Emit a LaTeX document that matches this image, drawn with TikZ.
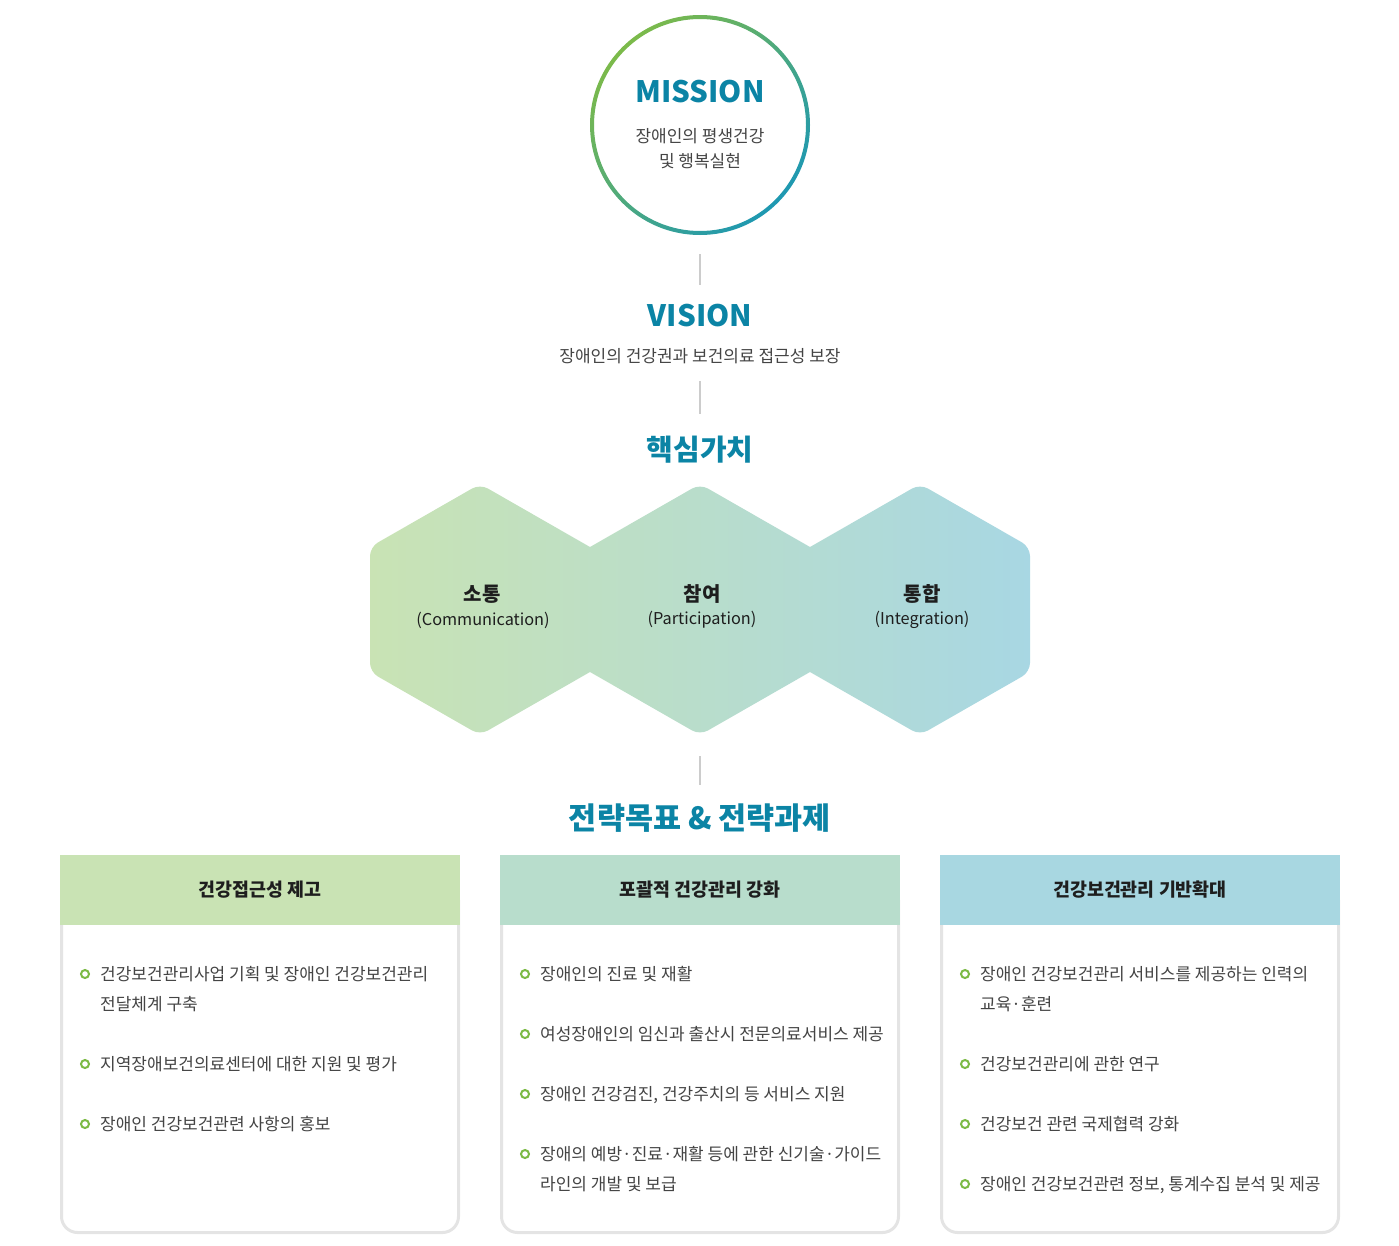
\documentclass[tikz,border=0pt]{standalone}
\usepackage{fontspec}
\setmainfont{Noto Sans CJK KR}
\definecolor{ttl}{HTML}{0B84A5}
\definecolor{txtgray}{HTML}{444444}
\definecolor{txtdark}{HTML}{1E1E1E}
\definecolor{linegray}{HTML}{CCCCCC}
\definecolor{boxgray}{HTML}{E4E4E4}
\definecolor{bulgreen}{HTML}{7CBA45}
\definecolor{ringA}{HTML}{7CBA4A}
\definecolor{ringB}{HTML}{1E98B2}
\definecolor{hexA}{HTML}{C9E3B4}
\definecolor{hexB}{HTML}{A8D7E3}
\definecolor{hdrA}{HTML}{C9E3B4}
\definecolor{hdrB}{HTML}{B8DDCC}
\definecolor{hdrC}{HTML}{A8D7E1}
\begin{document}
\begin{tikzpicture}[x=1pt,y=-1pt,
  bigtitle/.style={text=ttl, font=\bfseries\fontsize{29.5}{34}\selectfont, inner sep=0},
  kotitle/.style={text=ttl, font=\bfseries\fontsize{29}{34}\selectfont, inner sep=0},
  subtext/.style={text=txtgray, font=\fontsize{17}{25}\selectfont, inner sep=0, align=center},
  link/.style={draw=linegray, line width=2pt},
  hextitle/.style={font=\bfseries\fontsize{20}{24}\selectfont, text=txtdark, inner sep=0},
  hexsub/.style={font=\fontsize{16.3}{20}\selectfont, text=txtdark, inner sep=0},
  hdr/.style={font=\bfseries\fontsize{18.4}{22}\selectfont, text=txtdark, minimum width=400pt, minimum height=70pt, inner sep=0},
  item/.style={font=\fontsize{17}{30}\selectfont, text=txtgray, anchor=base west, inner sep=0},
  bul/.style={circle, draw=bulgreen, line width=2pt, minimum size=8pt, inner sep=0},
  boxbody/.style={draw=boxgray, line width=3pt, fill=white, rounded corners=16pt}
]
\useasboundingbox (0,0) rectangle (1399,1245);

% MISSION circle
\shade[even odd rule, top color=ringA, bottom color=ringB, shading angle=45]
  (700,125) circle[radius=110pt] (700,125) circle[radius=106pt];
\node[circle, minimum size=216pt, inner sep=0] (mission) at (700,125) {};
\node[bigtitle] (missiont) at (700,92) {MISSION};
\node[subtext] (missions) at (700,149) {장애인의 평생건강\\및 행복실현};

% VISION
\node[bigtitle] (vision) at (700,316) {VISION};
\node[subtext] (visions) at (700,356) {장애인의 건강권과 보건의료 접근성 보장};
\draw[link, shorten <=21pt, shorten >=19pt] (mission.south) -- (vision.north);

% core values
\node[kotitle] (core) at (700,450) {핵심가치};
\draw[link, shorten <=17pt, shorten >=22pt] (visions.south) -- (core.north);

\shade[left color=hexA, right color=hexB]
  (370,600) [rounded corners=9pt] -- (370,547) -- (480,484)
  [sharp corners] -- (590,547) [rounded corners=9pt] -- (700,484)
  [sharp corners] -- (810,547) [rounded corners=9pt] -- (920,484)
  -- (1030,547) -- (1030,672) -- (920,735)
  [sharp corners] -- (810,672) [rounded corners=9pt] -- (700,735)
  [sharp corners] -- (590,672) [rounded corners=9pt] -- (480,735)
  -- (370,672) -- cycle;
\node[hextitle] (v1) at (482,594) {소통};
\node[hexsub] (v1s) at (483,620) {(Communication)};
\node[hextitle] (v2) at (702,594) {참여};
\node[hexsub] (v2s) at (702,620) {(Participation)};
\node[hextitle] (v3) at (922,594) {통합};
\node[hexsub] (v3s) at (922,620) {(Integration)};
\coordinate (hexbottom) at (700,735);

% strategy
\node[kotitle, font=\bfseries\fontsize{30.5}{34}\selectfont] (strat) at (700,818) {전략목표 \& 전략과제};
\draw[link, shorten <=21pt, shorten >=18pt] (hexbottom) -- (strat.north);

% boxes
\draw[boxbody] (61.5,900) -- (61.5,1232.5) -- (458.5,1232.5) -- (458.5,900);
\draw[boxbody] (501.5,900) -- (501.5,1232.5) -- (898.5,1232.5) -- (898.5,900);
\draw[boxbody] (941.5,900) -- (941.5,1232.5) -- (1338.5,1232.5) -- (1338.5,900);
\node[hdr, fill=hdrA] (h1) at (260,890) {건강접근성 제고};
\node[hdr, fill=hdrB] (h2) at (700,890) {포괄적 건강관리 강화};
\node[hdr, fill=hdrC] (h3) at (1140,890) {건강보건관리 기반확대};

% column 1
\node[bul] (b11) at (85,974) {};
\node[item] (t11) at (100,980) {건강보건관리사업 기획 및 장애인 건강보건관리};
\node[item] (t11b) at (100,1010) {전달체계 구축};
\node[bul] (b12) at (85,1064) {};
\node[item] (t12) at (100,1070) {지역장애보건의료센터에 대한 지원 및 평가};
\node[bul] (b13) at (85,1124) {};
\node[item] (t13) at (100,1130) {장애인 건강보건관련 사항의 홍보};

% column 2
\node[bul] (b21) at (525,974) {};
\node[item] (t21) at (540,980) {장애인의 진료 및 재활};
\node[bul] (b22) at (525,1034) {};
\node[item] (t22) at (540,1040) {여성장애인의 임신과 출산시 전문의료서비스 제공};
\node[bul] (b23) at (525,1094) {};
\node[item] (t23) at (540,1100) {장애인 건강검진, 건강주치의 등 서비스 지원};
\node[bul] (b24) at (525,1154) {};
\node[item] (t24) at (540,1160) {장애의 예방·진료·재활 등에 관한 신기술·가이드};
\node[item] (t24b) at (540,1190) {라인의 개발 및 보급};

% column 3
\node[bul] (b31) at (965,974) {};
\node[item] (t31) at (980,980) {장애인 건강보건관리 서비스를 제공하는 인력의};
\node[item] (t31b) at (980,1010) {교육·훈련};
\node[bul] (b32) at (965,1064) {};
\node[item] (t32) at (980,1070) {건강보건관리에 관한 연구};
\node[bul] (b33) at (965,1124) {};
\node[item] (t33) at (980,1130) {건강보건 관련 국제협력 강화};
\node[bul] (b34) at (965,1184) {};
\node[item] (t34) at (980,1190) {장애인 건강보건관련 정보, 통계수집 분석 및 제공};
\end{tikzpicture}
\end{document}
